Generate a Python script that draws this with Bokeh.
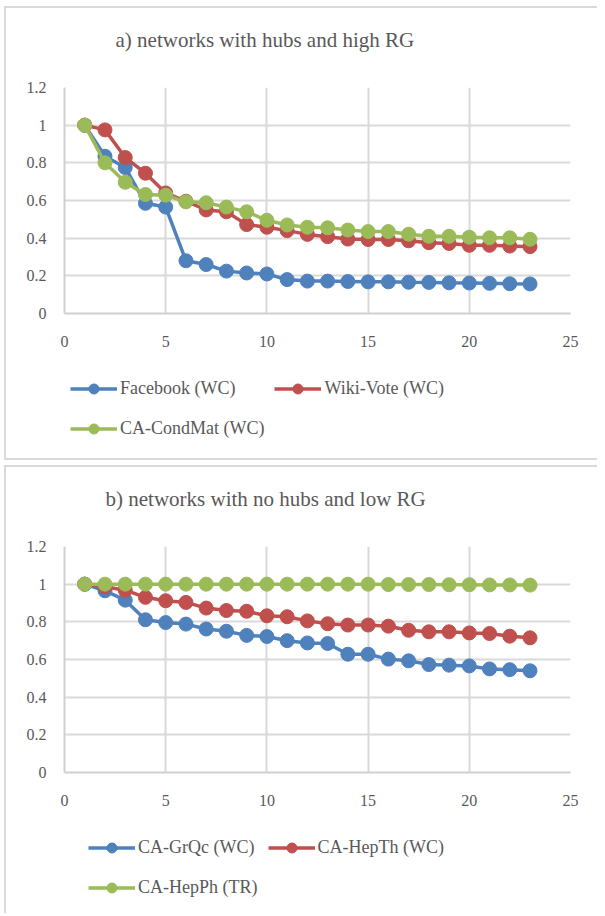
from bokeh.plotting import figure
from bokeh.models import (FixedTicker, CustomJSTickFormatter, Legend, LegendItem,
                          Range1d, Title)
from bokeh.layouts import column
from bokeh.embed import file_html
from bokeh.resources import INLINE

# ---------------- data ----------------
steps = list(range(1, 24))

title_a = "a) networks with hubs and high RG"
names_a = ["Facebook (WC)", "Wiki-Vote (WC)", "CA-CondMat (WC)"]
facebook = [1.0, 0.835, 0.775, 0.585, 0.565, 0.28, 0.26, 0.225, 0.215, 0.21, 0.18,
            0.172, 0.172, 0.17, 0.168, 0.168, 0.166, 0.165, 0.163, 0.162, 0.16, 0.158, 0.157]
wiki_vote = [1.0, 0.975, 0.828, 0.745, 0.64, 0.596, 0.55, 0.54, 0.472, 0.458, 0.44,
             0.42, 0.408, 0.395, 0.393, 0.393, 0.386, 0.376, 0.372, 0.362, 0.362, 0.358, 0.355]
condmat = [1.0, 0.80, 0.697, 0.632, 0.628, 0.593, 0.588, 0.565, 0.54, 0.495, 0.47,
           0.458, 0.455, 0.443, 0.435, 0.435, 0.421, 0.41, 0.41, 0.405, 0.402, 0.402, 0.394]

title_b = "b) networks with no hubs and low RG"
names_b = ["CA-GrQc (WC)", "CA-HepTh (WC)", "CA-HepPh (TR)"]
grqc = [1.0, 0.965, 0.915, 0.811, 0.796, 0.788, 0.762, 0.75, 0.728, 0.722, 0.70,
        0.688, 0.685, 0.628, 0.628, 0.602, 0.593, 0.573, 0.57, 0.566, 0.55, 0.546, 0.54]
hepth = [1.0, 0.986, 0.968, 0.93, 0.912, 0.903, 0.873, 0.86, 0.856, 0.832, 0.827,
         0.805, 0.79, 0.783, 0.783, 0.777, 0.755, 0.747, 0.747, 0.741, 0.738, 0.724, 0.715]
hepph = [1.0, 1.0, 1.0, 1.0, 1.0, 1.0, 1.0, 1.0, 1.0, 1.0, 1.0,
         1.0, 1.0, 1.0, 1.0, 0.998, 0.998, 0.998, 0.997, 0.997, 0.996, 0.996, 0.995]

x_ticks = [0, 5, 10, 15, 20, 25]
y_ticks = [0, 0.2, 0.4, 0.6, 0.8, 1.0, 1.2]

colors = ["#4f81bd", "#c0504d", "#9bbb59"]
FONT = "Liberation Serif"
TXT = "#595959"
GRID = "#d9d9d9"
BORDER = "2px solid #d9d9d9"

W = 593
PLOT_H = 350


def make_plot(title, names, series, title_offset):
    p = figure(width=W, height=PLOT_H, output_backend="svg", toolbar_location=None,
               title=None,
               x_range=Range1d(0, 25), y_range=Range1d(0, 1.2),
               min_border_left=58, min_border_right=29, min_border_top=79,
               min_border_bottom=PLOT_H - 305,
               background_fill_color="white", border_fill_color=None)
    p.outline_line_color = None
    # spacer between frame and title (nearest the frame)
    p.add_layout(Title(text=" ", text_font_size="1px", standoff=33), "above")
    p.add_layout(Title(text=title, text_font=FONT, text_font_size="21px",
                       text_font_style="normal", text_color=TXT, align="left",
                       offset=title_offset, standoff=0), "above")

    for ax in (p.xaxis[0], p.yaxis[0]):
        ax.axis_line_color = "#d0d0d0"
        ax.axis_line_width = 2
        ax.major_tick_line_color = None
        ax.minor_tick_line_color = None
        ax.major_label_text_font = FONT
        ax.major_label_text_font_size = "16px"
        ax.major_label_text_color = TXT
    p.xaxis.ticker = FixedTicker(ticks=x_ticks)
    p.yaxis.ticker = FixedTicker(ticks=y_ticks)
    p.xaxis.major_label_standoff = 16
    p.yaxis.major_label_standoff = 12
    p.yaxis.formatter = CustomJSTickFormatter(code="return String(Math.round(tick*10)/10)")
    p.xgrid.ticker = FixedTicker(ticks=x_ticks)
    p.ygrid.ticker = FixedTicker(ticks=y_ticks)
    for g in (p.xgrid[0], p.ygrid[0]):
        g.grid_line_color = GRID
        g.grid_line_width = 2

    for name, ys, c in zip(names, series, colors):
        p.line(steps, ys, line_color=c, line_width=3.5)
        p.scatter(steps, ys, size=14, fill_color=c, line_color=c)

    p.styles = {"border-left": BORDER, "border-top": BORDER}
    return p


def make_legend(names, series, height, lx, ly, border_bottom):
    # legend-only strip: same series drawn out of view, legend shows their glyphs
    q = figure(width=W, height=height, output_backend="svg", toolbar_location=None,
               x_range=Range1d(100, 101), y_range=Range1d(100, 101),
               x_axis_location=None, y_axis_location=None,
               min_border=0, min_border_left=0, min_border_right=0,
               min_border_top=0, min_border_bottom=0,
               background_fill_color=None, border_fill_color=None)
    q.outline_line_color = None
    q.grid.visible = False
    items = []
    for name, ys, c in zip(names, series, colors):
        lr = q.line(steps, ys, line_color=c, line_width=3.5)
        sr = q.scatter(steps, ys, size=14, fill_color=c, line_color=c)
        items.append(LegendItem(label=name, renderers=[lr, sr]))
    leg = Legend(items=items, location=(lx, ly), orientation="horizontal",
                 ncols=2, glyph_width=47, glyph_height=25, label_height=30,
                 label_standoff=3, spacing=10, padding=0, margin=0,
                 border_line_color=None, background_fill_alpha=0,
                 label_text_font=FONT, label_text_font_size="18px",
                 label_text_color=TXT, label_text_baseline="middle")
    q.add_layout(leg, "center")
    st = {"border-left": BORDER}
    if border_bottom:
        st["border-bottom"] = BORDER
    q.styles = st
    return q


pa = make_plot(title_a, names_a, [facebook, wiki_vote, condmat], 51)
la = make_legend(names_a, [facebook, wiki_vote, condmat], 104, 6, 17, True)
pb = make_plot(title_b, names_b, [grqc, hepth, hepph], 41)
lb = make_legend(names_b, [grqc, hepth, hepph], 98, 24, 11, False)

panel_a = column(pa, la, spacing=0)
panel_b = column(pb, lb, spacing=0)
layout = column(panel_a, panel_b, spacing=5,
                styles={"margin-left": "4px", "margin-top": "6px"})

open("out.html", "w").write(file_html(layout, INLINE))
